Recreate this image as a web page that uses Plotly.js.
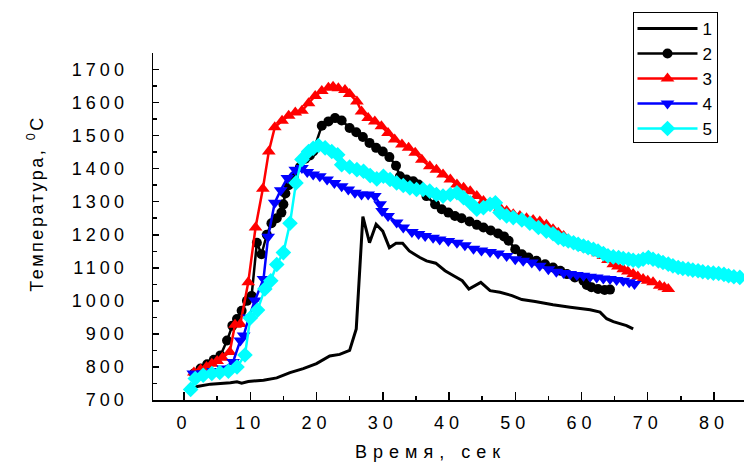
<!DOCTYPE html>
<html>
<head>
<meta charset="utf-8">
<script src="https://cdn.plot.ly/plotly-3.0.1.min.js"></script>
<style>
  body { margin: 0; padding: 0; background: #fff; }
  #chart { width: 744px; height: 463px; }
  .xtick text { letter-spacing: 5px; }
  .ytick text { letter-spacing: 4px; }
  g.annotation[data-index="0"] text { letter-spacing: 6px; }
  g.annotation[data-index="1"] text { letter-spacing: 2.5px; }
</style>
</head>
<body>
<div id="chart"></div>
<script>
// ---- data (time, s ; temperature, °C) ----
const names = ["1", "2", "3", "4", "5"];

const t1 = [1, 2, 4, 6, 7, 8, 8.7, 9.7, 12, 14, 16, 18, 20, 22, 23.5, 25, 26, 27, 28, 29, 30, 31, 32, 33, 34, 35.6, 36.6, 38, 39.4, 40.7, 42, 43, 44.8, 46.2, 47.7, 49.5, 51, 53, 55.7, 58.3, 61.3, 62.8, 63.8, 64.8, 66.8, 67.8];
const T1 = [732, 741, 748, 750, 752, 755, 751, 756, 760, 767, 783, 795, 810, 833, 838, 850, 915, 1255, 1176, 1232, 1211, 1161, 1174, 1174, 1151, 1131, 1121, 1114, 1091, 1076, 1061, 1036, 1056, 1031, 1026, 1016, 1004, 998, 988, 981, 973, 966, 946, 937, 925, 915];

const t2 = [1.5, 2.5, 3.5, 4.5, 5.5, 6.5, 7.3, 8, 8.7, 9.5, 10.2, 11, 11.7, 12.5, 13.2, 14, 14.7, 15, 15.3, 15.8, 16.6, 17.5, 18.3, 19, 19.5, 20.8, 21.8, 22.8, 23.8, 25, 26, 27, 28, 29, 30, 31, 32, 32.6, 33.6, 34.6, 35.4, 36.6, 37.9, 38.9, 39.9, 40.9, 41.9, 43.1, 44.2, 45.2, 46.3, 47.4, 48.3, 49, 50, 51, 52, 53.2, 54.5, 55.7, 56.8, 57.8, 59, 60.3, 60.8, 61.5, 62.5, 63.5, 64.3];
const T2 = [780, 795, 808, 822, 835, 880, 925, 945, 970, 1000, 1015, 1176, 1141, 1200, 1235, 1250, 1267, 1292, 1325, 1350, 1377, 1405, 1430, 1440, 1452, 1530, 1543, 1553, 1546, 1523, 1510, 1496, 1478, 1463, 1452, 1435, 1409, 1377, 1367, 1362, 1352, 1317, 1292, 1277, 1267, 1257, 1250, 1240, 1230, 1222, 1213, 1204, 1195, 1182, 1156, 1141, 1131, 1121, 1111, 1101, 1091, 1081, 1071, 1061, 1048, 1041, 1036, 1033, 1034];

const t3 = [1.5, 2.5, 3.4, 4.2, 5, 5.8, 6.9, 7.7, 8.5, 9.7, 10.8, 11.9, 12.8, 13.7, 14.8, 15.8, 16.8, 17.8, 18.8, 19.8, 20.8, 21.8, 22.5, 23.3, 24.3, 25, 26.1, 26.8, 27.8, 28.8, 29.8, 30.8, 31.8, 32.9, 33.9, 34.9, 35.9, 37.1, 38.1, 39.1, 40.2, 41.2, 42.2, 43.2, 44.2, 45.2, 46.4, 47.7, 48.7, 49.7, 50.7, 51.7, 52.7, 53.7, 54.7, 55.7, 56.5, 57.3, 58, 58.8, 59.6, 60.3, 61.1, 61.8, 62.5, 63.3, 64, 64.8, 65.5, 66.3, 67, 67.8, 68.5, 69.3, 70, 70.8, 71.8, 72.5, 73.1];
const T3 = [783, 792, 800, 810, 818, 828, 845, 928, 930, 1056, 1222, 1339, 1452, 1525, 1545, 1560, 1570, 1575, 1598, 1620, 1635, 1645, 1648, 1643, 1638, 1626, 1603, 1573, 1553, 1543, 1528, 1508, 1488, 1473, 1463, 1448, 1427, 1407, 1397, 1382, 1367, 1352, 1342, 1332, 1317, 1302, 1292, 1282, 1272, 1262, 1257, 1250, 1245, 1240, 1230, 1217, 1206, 1196, 1186, 1176, 1168, 1161, 1156, 1151, 1144, 1136, 1124, 1111, 1104, 1096, 1089, 1081, 1074, 1066, 1061, 1056, 1046, 1041, 1036];

const t4 = [1.4, 2.9, 4.4, 5.9, 7.4, 8.5, 9, 9.8, 10.7, 12, 12.7, 13.7, 14.6, 15.6, 16.8, 17.8, 18.6, 19.5, 20.5, 21.6, 22.7, 23.8, 24.8, 25.8, 26.8, 27.8, 28.8, 29.6, 29.9, 30.8, 32.1, 33.1, 34.4, 35.4, 36.4, 37.6, 38.6, 39.9, 41.2, 42.4, 43.7, 44.9, 46.2, 47.4, 48.7, 50, 51.2, 52.5, 53.7, 55, 56.2, 57.3, 58.3, 59.3, 60.3, 61.3, 62.3, 63.3, 64.3, 65.3, 66.3, 67.2, 68];
const T4 = [780, 781, 788, 795, 815, 880, 895, 950, 1001, 1066, 1194, 1297, 1335, 1372, 1397, 1402, 1390, 1382, 1377, 1367, 1357, 1347, 1337, 1327, 1322, 1322, 1317, 1292, 1272, 1257, 1237, 1222, 1208, 1202, 1196, 1191, 1186, 1181, 1176, 1168, 1158, 1152, 1148, 1143, 1136, 1126, 1121, 1116, 1106, 1096, 1088, 1084, 1081, 1078, 1076, 1073, 1071, 1068, 1066, 1063, 1061, 1056, 1051];

const t5 = [1, 1.7, 2.9, 4.2, 5.4, 6.7, 8, 9.2, 10, 11.1, 12.2, 13.1, 14, 15, 16, 16.9, 17.8, 18.8, 19.5, 20.3, 21.3, 22.3, 23.2, 23.8, 25, 26.1, 27.1, 28.1, 29.1, 30.1, 31.1, 32.1, 33.1, 34.1, 35.1, 36.1, 37.1, 38.1, 39.1, 40.2, 41.2, 42.2, 43.2, 44.2, 45.2, 46.2, 47, 47.7, 48.7, 49.7, 51, 52.2, 53.5, 54.7, 55.7, 56.5, 57.3, 58, 58.8, 59.5, 60.3, 61, 61.8, 62.5, 63.3, 64, 64.8, 65.6, 66.3, 67.1, 67.8, 68.6, 69.3, 70.1, 70.8, 71.6, 72.3, 73.1, 73.8, 74.6, 75.3, 76.1, 76.8, 77.6, 78.3, 79.1, 79.9, 80.7, 81.5, 82.2, 83, 83.9];
const T5 = [732, 765, 775, 780, 783, 787, 800, 836, 948, 972, 1036, 1061, 1110, 1146, 1235, 1357, 1428, 1452, 1462, 1470, 1463, 1452, 1442, 1412, 1405, 1397, 1392, 1379, 1369, 1377, 1367, 1357, 1349, 1342, 1337, 1337, 1332, 1322, 1317, 1322, 1327, 1312, 1297, 1277, 1282, 1292, 1297, 1267, 1257, 1252, 1245, 1235, 1222, 1211, 1203, 1191, 1186, 1181, 1176, 1171, 1166, 1161, 1156, 1151, 1143, 1136, 1133, 1131, 1128, 1126, 1123, 1121, 1126, 1131, 1126, 1121, 1116, 1111, 1106, 1101, 1098, 1096, 1093, 1091, 1088, 1086, 1084, 1083, 1080, 1076, 1073, 1071];

const xTickVals = [0, 10, 20, 30, 40, 50, 60, 70, 80];
const yTickVals = [700, 800, 900, 1000, 1100, 1200, 1300, 1400, 1500, 1600, 1700];
const xTitle = "Время, сек";
const yTitle = "Температура, <sup>0</sup>C";

// ---- styling ----
const colors = ["#000000", "#000000", "#ff0000", "#0000ff", "#00ffff"];
const symbols = [null, "circle", "triangle-up", "triangle-down", "diamond"];
const msize = [0, 10, 12, 12, 12];
const lw = [3, 2.5, 2.5, 2.5, 2.5];
const xs = [t1, t2, t3, t4, t5];
const ys = [T1, T2, T3, T4, T5];

const traces = xs.map((x, i) => {
  const tr = {
    x: x, y: ys[i], name: names[i], type: "scatter",
    mode: i === 0 ? "lines" : "lines+markers",
    line: { color: colors[i], width: lw[i] }
  };
  if (i > 0) tr.marker = { symbol: symbols[i], size: msize[i], color: colors[i], line: { width: 0 } };
  return tr;
});

const fam = "Liberation Sans, Arial, sans-serif";

const layout = {
  width: 744, height: 463,
  margin: { l: 153, r: 0, t: 53, b: 63, autoexpand: false },
  paper_bgcolor: "#fff", plot_bgcolor: "#fff",
  font: { family: fam, color: "#000" },
  showlegend: true,
  legend: {
    x: (633 - 153) / 591, y: (400 - 12) / 347, xanchor: "left", yanchor: "top",
    bordercolor: "#000", borderwidth: 1, bgcolor: "#fff",
    font: { family: fam, size: 17, color: "#000" },
    itemwidth: 60
  },
  xaxis: {
    range: [-4.68, 84.53],
    tickvals: xTickVals, ticktext: xTickVals.map(String),
    ticks: "inside", ticklen: 8, tickwidth: 1.5, tickcolor: "#000",
    minor: { ticks: "inside", ticklen: 4, dtick: 5, tick0: 0, tickwidth: 1.5, tickcolor: "#000", showgrid: false },
    showline: true, linecolor: "#000", linewidth: 1.5,
    showgrid: false, zeroline: false,
    tickfont: { family: fam, size: 18, color: "#000" },
    ticklabelstandoff: 6
  },
  yaxis: {
    range: [700, 1750],
    tickvals: yTickVals, ticktext: yTickVals.map(String),
    ticks: "inside", ticklen: 6, tickwidth: 1.5, tickcolor: "#000",
    minor: { ticks: "inside", ticklen: 4, dtick: 50, tick0: 0, tickwidth: 1.5, tickcolor: "#000", showgrid: false },
    showline: true, linecolor: "#000", linewidth: 1.5,
    showgrid: false, zeroline: false,
    tickfont: { family: fam, size: 18, color: "#000" },
    ticklabelstandoff: 20
  },
  annotations: [
    {
      text: xTitle, xref: "paper", yref: "paper",
      x: (430 - 153) / 591, y: (400 - 452) / 347, xanchor: "center", yanchor: "middle",
      showarrow: false, font: { family: fam, size: 18, color: "#000" }
    },
    {
      text: yTitle, xref: "paper", yref: "paper", textangle: -90,
      x: (35 - 153) / 591, y: (400 - 204) / 347, xanchor: "center", yanchor: "middle",
      showarrow: false, font: { family: fam, size: 18, color: "#000" }
    }
  ]
};

// legend look of the reference: 60 px line samples, 25 px row pitch (style only)
function tuneLegend() {
  const gd = document.getElementById("chart");
  try {
    const leg = gd.querySelector("g.legend");
    if (!leg) return;
    const bg = leg.querySelector("rect.bg");
    const bgBox = bg.getBoundingClientRect();
    leg.querySelectorAll("g.traces").forEach(function (tr, i) {
      const tf = tr.getAttribute("transform") || "";
      const m = /translate\(\s*([\d.\-]+)[ ,]+([\d.\-]+)/.exec(tf);
      if (m) {
        const tx = parseFloat(m[1]), ty = parseFloat(m[2]);
        const cy = tr.getScreenCTM().f;
        const target = bgBox.top + 16 + 25 * i;
        tr.setAttribute("transform", "translate(" + tx + "," + (ty + target - cy) + ")");
      }
      const line = tr.querySelector(".legendlines path");
      if (line) {
        const ex = line.getScreenCTM().e;
        line.setAttribute("d", "M" + (bgBox.left + 4 - ex) + ",0h60");
      }
      const pt = tr.querySelector(".legendpoints path");
      if (pt) {
        const pex = pt.parentNode.getScreenCTM().e;
        pt.setAttribute("transform", "translate(" + (bgBox.left + 34 - pex) + ",0)");
      }
      const txt = tr.querySelector("text.legendtext");
      if (txt) {
        const tex = txt.parentNode.getScreenCTM().e;
        txt.setAttribute("x", bgBox.left + 69 - tex);
      }
    });
    bg.setAttribute("height", 130);
    bg.setAttribute("width", 84);
  } catch (e) { /* keep default legend */ }
}

Plotly.newPlot("chart", traces, layout, { displayModeBar: false, staticPlot: true }).then(function () {
  tuneLegend();
  setTimeout(tuneLegend, 200);
});
</script>
</body>
</html>
